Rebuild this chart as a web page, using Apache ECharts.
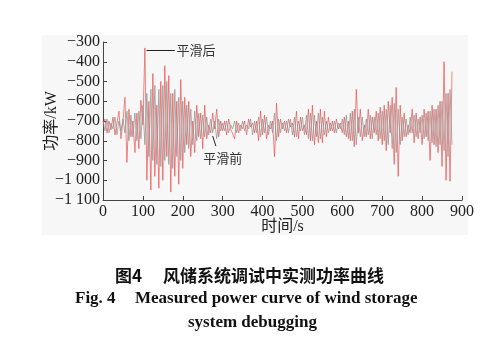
<!DOCTYPE html>
<html><head><meta charset="utf-8">
<script src="https://cdn.jsdelivr.net/npm/echarts@6/dist/echarts.min.js"></script>
<style>html,body{margin:0;padding:0;background:#fff}#c{width:492px;height:345px}</style>
</head><body><div id="c"></div>
<script>
// time axis (s)
const times = [];
for (let t = 0; t <= 875; t += 5) times.push(t);
// red series
const redPower = [
-720,-690,-760,-700,-745,-680,-770,-710,-650,-790,
-700,-580,-910,-640,-780,-700,-860,-660,-840,-595,
-720,-330,-1000,-600,-1050,-460,-980,-620,-1040,-500,
-1000,-420,-880,-470,-1060,-560,-980,-600,-1020,-490,
-940,-580,-820,-600,-880,-700,-860,-620,-780,-660,
-840,-620,-790,-720,-760,-660,-740,-640,-780,-700,
-750,-700,-770,-690,-740,-730,-790,-700,-760,-720,
-740,-700,-770,-690,-730,-710,-760,-700,-800,-650,
-770,-670,-790,-720,-740,-700,-880,-610,-780,-690,
-740,-700,-760,-690,-730,-710,-780,-650,-790,-680,
-750,-720,-770,-640,-800,-620,-820,-700,-810,-640,
-810,-650,-780,-680,-750,-700,-760,-690,-740,-710,
-760,-680,-780,-700,-800,-650,-830,-540,-760,-640,
-800,-720,-780,-640,-790,-680,-760,-650,-800,-630,
-820,-620,-850,-600,-760,-580,-920,-530,-980,-620,
-800,-660,-780,-720,-760,-640,-810,-660,-790,-680,
-820,-640,-780,-650,-900,-620,-820,-640,-860,-600,
-930,-400,-1000,-560,-1005,-450
];
// gray series
const grayPower = [
-700,-750,-690,-760,-710,-740,-680,-770,-700,-750,
-690,-760,-650,-800,-670,-780,-660,-800,-650,-790,
-620,-820,-560,-880,-540,-900,-520,-920,-540,-930,
-520,-900,-500,-920,-560,-940,-540,-880,-580,-900,
-600,-860,-620,-840,-640,-820,-650,-800,-660,-790,
-670,-780,-680,-770,-690,-760,-700,-790,-690,-750,
-710,-750,-700,-760,-720,-740,-700,-760,-710,-750,
-700,-750,-720,-740,-690,-770,-700,-760,-680,-780,
-690,-760,-680,-770,-700,-760,-660,-800,-690,-760,
-710,-750,-700,-760,-690,-770,-680,-780,-700,-750,
-680,-770,-670,-790,-660,-800,-670,-780,-660,-790,
-680,-770,-700,-760,-710,-750,-700,-760,-710,-740,
-690,-770,-670,-790,-660,-800,-640,-820,-680,-780,
-680,-780,-690,-770,-670,-790,-680,-770,-660,-790,
-650,-800,-640,-820,-620,-840,-610,-860,-640,-820,
-680,-780,-690,-770,-680,-760,-670,-780,-690,-760,
-670,-790,-660,-800,-650,-810,-640,-830,-620,-820,
-600,-850,-560,-880,-540,-820
];
const xTicks = [0,100,200,300,400,500,600,700,800,900];
const yTicks = [-1100,-1000,-900,-800,-700,-600,-500,-400,-300];
const labelAfter = '平滑后';
const labelBefore = '平滑前';
const yName = '功率/kW';
const xName = '时间/s';
const captionCN1 = '图4';
const captionCN2 = '风储系统调试中实测功率曲线';
const captionEN1 = 'Fig. 4';
const captionEN2 = 'Measured power curve of wind storage';
const captionEN3 = 'system debugging';

function fmtY(v){
  const a = Math.abs(v);
  let s = a >= 1000 ? Math.floor(a/1000) + ' ' + String(a%1000).padStart(3,'0') : String(a);
  return (v < 0 ? '\u2212' : '') + s;
}
const serif = "'Liberation Serif','Noto Sans CJK SC'";
const chart = echarts.init(document.getElementById('c'), null, {renderer:'canvas'});
chart.setOption({
  animation:false,
  backgroundColor:'#fff',
  graphic:[
    {type:'rect', z:-10, shape:{x:42,y:35,width:426,height:200}, style:{fill:'#f7f7f7'}},
    {type:'text', left:115, top:267, style:{text:captionCN1, font:"bold 17px 'Noto Sans CJK SC'", fill:'#111'}},
    {type:'text', left:163, top:267, style:{text:captionCN2, font:"bold 17px 'Noto Sans CJK SC'", fill:'#111'}},
    {type:'text', left:75, top:290, style:{text:captionEN1, font:"bold 17px 'Liberation Serif'", fill:'#111'}},
    {type:'text', left:135, top:290, style:{text:captionEN2, font:"bold 17px 'Liberation Serif'", fill:'#111'}},
    {type:'text', left:188, top:314, style:{text:captionEN3, font:"bold 17px 'Liberation Serif'", fill:'#111'}}
  ],
  grid:{left:103, right:30, top:42, bottom:145, containLabel:false},
  xAxis:{
    type:'value', min:0, max:900, interval:100,
    name:xName, nameLocation:'middle', nameGap:19, nameMoveOverlap:false,
    nameTextStyle:{fontFamily:serif, fontSize:16, color:'#222'},
    axisLine:{lineStyle:{color:'#444', width:1}},
    axisTick:{inside:true, length:4, lineStyle:{color:'#444'}},
    axisLabel:{fontFamily:serif, fontSize:16, color:'#222', margin:4},
    splitLine:{show:false}
  },
  yAxis:{
    type:'value', min:-1100, max:-300, interval:100,
    name:yName, nameLocation:'middle', nameGap:43, nameRotate:90, nameMoveOverlap:false,
    nameTextStyle:{fontFamily:serif, fontSize:16, color:'#222'},
    axisLine:{show:true, lineStyle:{color:'#444', width:1}},
    axisTick:{show:true, inside:true, length:4, lineStyle:{color:'#444'}},
    axisLabel:{fontFamily:serif, fontSize:16, color:'#222', margin:3, formatter:fmtY},
    splitLine:{show:false}
  },
  series:[
    {
      type:'line', data:times.map((t,i)=>[t,redPower[i]]), symbol:'none',
      lineStyle:{color:'#e8413f', width:0.9, opacity:0.7},
      markLine:{
        silent:true, symbol:'none', label:{show:false},
        lineStyle:{color:'#222', width:1, type:'solid', opacity:1},
        data:[
          [{coord:[109,-340]},{coord:[180,-340]}],
          [{coord:[275,-776]},{coord:[283,-827]}]
        ]
      },
      markPoint:{
        silent:true, symbol:'circle', symbolSize:0,
        label:{show:true, fontFamily:"'Noto Sans CJK SC'", fontSize:13, color:'#333'},
        data:[
          {coord:[182,-340], value:labelAfter, label:{position:'right', distance:1, formatter:labelAfter}},
          {coord:[300,-887], value:labelBefore, label:{position:'inside', formatter:labelBefore}}
        ]
      }
    },
    {
      type:'line', data:times.map((t,i)=>[t,grayPower[i]]), symbol:'none',
      lineStyle:{color:'#909090', width:0.9, opacity:0.8}
    }
  ]
});
</script></body></html>
